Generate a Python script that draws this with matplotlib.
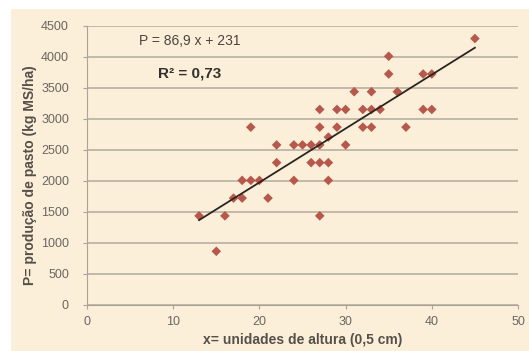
import matplotlib
matplotlib.use("Agg")
import matplotlib.pyplot as plt
from matplotlib.patches import Rectangle
import numpy as np

plt.rcParams['font.family'] = ['Liberation Sans', 'DejaVu Sans']

# altura (unidades de 0,5 cm) e producao de pasto (kg MS/ha)
altura = [13, 15, 16, 17, 18, 18, 19, 20, 19, 21,
          22, 22, 24, 24, 25, 26, 27, 26, 27, 28,
          28, 27, 28, 27, 29, 32, 33, 37, 30, 27,
          29, 30, 32, 33, 34, 39, 40, 31, 33, 36,
          35, 39, 40, 35, 45]
producao = [1430, 858, 1430, 1716, 1716, 2002, 2002, 2002, 2860, 1716,
            2288, 2574, 2002, 2574, 2574, 2574, 2574, 2288, 2288, 2288,
            2002, 1430, 2700, 2860, 2860, 2860, 2860, 2860, 2574, 3146,
            3146, 3146, 3146, 3146, 3146, 3146, 3146, 3432, 3432, 3432,
            3718, 3718, 3718, 4004, 4290]

# linha de tendencia P = 86,9 x + 231
coef_a = 86.9
coef_b = 231
eq_text = "P = 86,9 x + 231"
r2_text = "R² = 0,73"

bg = "#fcefd9"
fig = plt.figure(figsize=(5.29, 3.51), dpi=100)
fig.patch.set_facecolor("white")
# fundo bege com margem branca em cima e a esquerda
fig.patches.append(Rectangle((11/529, 0), 1, 1 - 9/351, transform=fig.transFigure,
                             facecolor=bg, edgecolor="none", zorder=-10))

ax = fig.add_axes([87/529, 1 - 304.5/351, 431/529, 279/351])
ax.set_facecolor(bg)

ax.scatter(altura, producao, marker="D", s=24, color="#b7584c", edgecolors="none", zorder=3)
xl = np.array([min(altura), max(altura)])
ax.plot(xl, coef_a * xl + coef_b, color="#2b2520", lw=1.3, zorder=4)

ax.set_xlim(0, 50)
ax.set_ylim(0, 4500)
ax.set_xticks(range(0, 51, 10))
ax.set_yticks(range(0, 4501, 500))
ax.grid(axis="y", color="#c2b9aa", lw=1.4)
ax.set_axisbelow(True)
for s in ["top", "right"]:
    ax.spines[s].set_visible(False)
for s in ["left", "bottom"]:
    ax.spines[s].set_color("#aaa396")
ax.tick_params(axis="both", colors="#aaa396", labelcolor="#6b6660", labelsize=9, length=3)
ax.tick_params(axis="x", pad=5)
ax.tick_params(axis="y", pad=10)

ax.set_xlabel("x= unidades de altura (0,5 cm)", fontsize=10, fontweight="bold", color="#55504a", labelpad=4)
ax.set_ylabel("P= produção de pasto (kg MS/ha)", fontsize=10, fontweight="bold", color="#55504a")
ax.yaxis.set_label_coords(-0.115, 0.465)

fig.text(190/529, 1 - 41/351, eq_text, fontsize=10, color="#4a4540", ha="center", va="center")
fig.text(190/529, 1 - 73/351, r2_text, fontsize=11, fontweight="bold", color="#333030", ha="center", va="center")

fig.savefig("out.png", dpi=100, facecolor=fig.get_facecolor())
